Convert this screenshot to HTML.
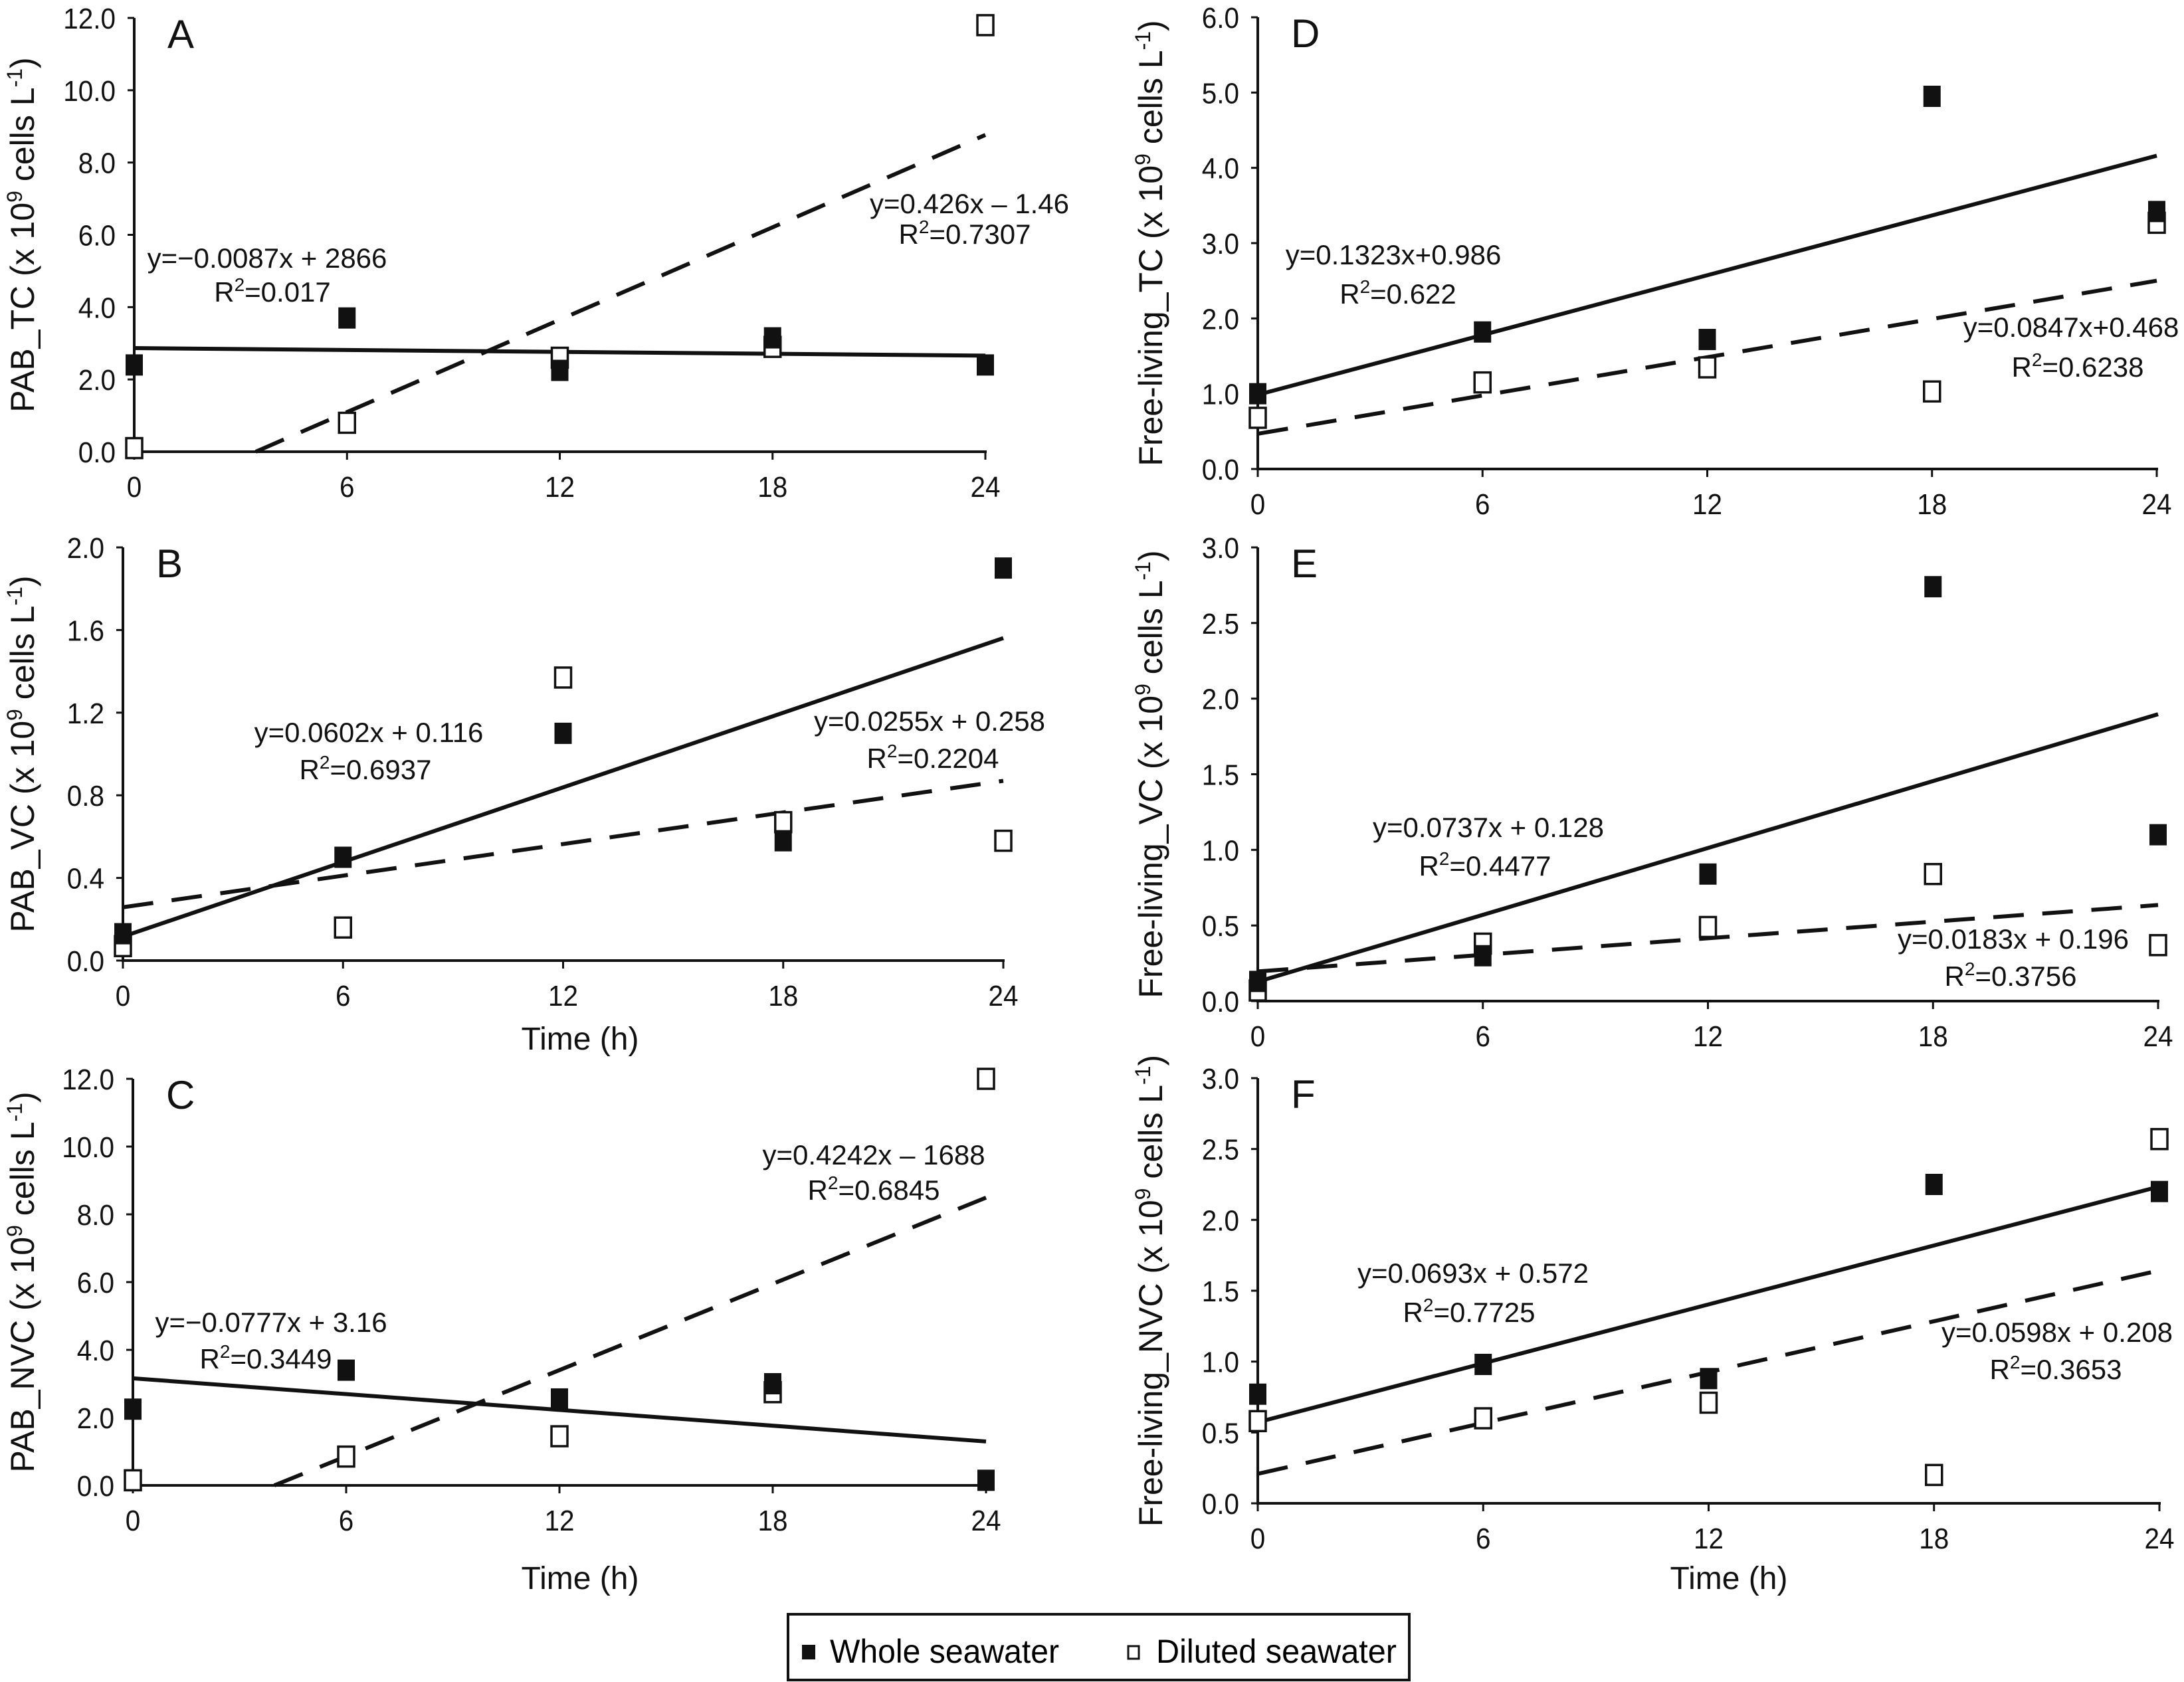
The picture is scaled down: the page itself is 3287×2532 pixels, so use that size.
<!DOCTYPE html>
<html><head><meta charset="utf-8"><style>
html,body{margin:0;padding:0;background:#fff;}
svg{display:block;font-family:"Liberation Sans",Arial,sans-serif;}
</style></head><body>
<svg id="fig" width="3287" height="2532" viewBox="0 0 3287 2532" xmlns="http://www.w3.org/2000/svg">
<rect width="3287" height="2532" fill="#fff"/>
<g>
<rect x="1186" y="2430" width="935" height="99" fill="#fff" stroke="#111" stroke-width="4"/>
<rect x="1207" y="2476" width="20" height="22" fill="#111"/>
<text x="1249" y="2503" font-size="50" textLength="345" lengthAdjust="spacingAndGlyphs">Whole seawater</text>
<rect x="1698" y="2478" width="16" height="19" fill="#fff" stroke="#111" stroke-width="3"/>
<text x="1740" y="2503" font-size="50" textLength="362" lengthAdjust="spacingAndGlyphs">Diluted seawater</text>
</g>
</svg>
<script>
// ---- data (top-level arrays) ----
const times = [0, 6, 12, 18, 24];
const xTicks = [0, 6, 12, 18, 24];
const wholeA = [2.4, 3.7, 2.25, 3.15, 2.4];
const dilutedA = [0.1, 0.8, 2.6, 2.9, 11.8];
const wholeB = [0.13, 0.5, 1.1, 0.58, 1.9];
const dilutedB = [0.07, 0.16, 1.37, 0.67, 0.58];
const wholeC = [2.25, 3.4, 2.55, 3.0, 0.15];
const dilutedC = [0.15, 0.85, 1.45, 2.75, 12.0];
const wholeD = [1.0, 1.82, 1.72, 4.95, 3.42];
const dilutedD = [0.68, 1.15, 1.35, 1.03, 3.27];
const wholeE = [0.13, 0.3, 0.84, 2.74, 1.1];
const dilutedE = [0.07, 0.38, 0.49, 0.84, 0.37];
const wholeF = [0.77, 0.98, 0.88, 2.25, 2.2];
const dilutedF = [0.58, 0.6, 0.71, 0.2, 2.57];
// regression coefficients [slope, intercept]
const fitWholeA = [-0.0087, 2.866];
const fitDilutedA = [0.426, -1.46];
const fitWholeB = [0.0602, 0.116];
const fitDilutedB = [0.0255, 0.258];
const fitWholeC = [-0.0777, 3.16];
const fitDilutedC = [0.4242, -1.688];
const fitWholeD = [0.1323, 0.986];
const fitDilutedD = [0.0847, 0.468];
const fitWholeE = [0.0737, 0.128];
const fitDilutedE = [0.0183, 0.196];
const fitWholeF = [0.0693, 0.572];
const fitDilutedF = [0.0598, 0.208];
const yTicksA = ["0.0","2.0","4.0","6.0","8.0","10.0","12.0"];
const yTicksB = ["0.0","0.4","0.8","1.2","1.6","2.0"];
const yTicksC = ["0.0","2.0","4.0","6.0","8.0","10.0","12.0"];
const yTicksD = ["0.0","1.0","2.0","3.0","4.0","5.0","6.0"];
const yTicksE = ["0.0","0.5","1.0","1.5","2.0","2.5","3.0"];
const yTicksF = ["0.0","0.5","1.0","1.5","2.0","2.5","3.0"];

const NS = "http://www.w3.org/2000/svg";
const svg = document.getElementById("fig");
function mk(tag, attrs, parent){ const e=document.createElementNS(NS,tag); for(const k in attrs) e.setAttribute(k,attrs[k]); (parent||svg).appendChild(e); return e; }

const panels = [
 {id:"a",letter:"A",x0:202,x1:1483,yb:680,yt:27,ymax:12,yt_:yTicksA,w:wholeA,d:dilutedA,fw:fitWholeA,fd:fitDilutedA,title:"PAB_TC",tx:34,
  eq:[[402,403,"y=−0.0087x + 2866"],[410,454,"0.017"],[1459,321,"y=0.426x – 1.46"],[1452,367,"0.7307"]],time:null},
 {id:"b",letter:"B",x0:185,x1:1510,yb:1446,yt:824,ymax:2,yt_:yTicksB,w:wholeB,d:dilutedB,fw:fitWholeB,fd:fitDilutedB,title:"PAB_VC",tx:34,
  eq:[[555,1117,"y=0.0602x + 0.116"],[550,1173,"0.6937"],[1399,1100,"y=0.0255x + 0.258"],[1404,1156,"0.2204"]],time:[873,1580]},
 {id:"c",letter:"C",x0:200,x1:1484,yb:2236,yt:1624,ymax:12,yt_:yTicksC,w:wholeC,d:dilutedC,fw:fitWholeC,fd:fitDilutedC,title:"PAB_NVC",tx:34,
  eq:[[408,2005,"y=−0.0777x + 3.16"],[400,2060,"0.3449"],[1315,1753,"y=0.4242x – 1688"],[1315,1806,"0.6845"]],time:[873,2392]},
 {id:"d",letter:"D",x0:1893,x1:3246,yb:706,yt:26,ymax:6,yt_:yTicksD,w:wholeD,d:dilutedD,fw:fitWholeD,fd:fitDilutedD,title:"Free-living_TC",tx:1732,
  eq:[[2097,398,"y=0.1323x+0.986"],[2104,457,"0.622"],[3117,507,"y=0.0847x+0.468"],[3127,567,"0.6238"]],time:null},
 {id:"e",letter:"E",x0:1893,x1:3248,yb:1507,yt:824,ymax:3,yt_:yTicksE,w:wholeE,d:dilutedE,fw:fitWholeE,fd:fitDilutedE,title:"Free-living_VC",tx:1732,
  eq:[[2240,1260,"y=0.0737x + 0.128"],[2235,1318,"0.4477"],[3030,1428,"y=0.0183x + 0.196"],[3026,1484,"0.3756"]],time:null},
 {id:"f",letter:"F",x0:1893,x1:3250,yb:2263,yt:1623,ymax:3,yt_:yTicksF,w:wholeF,d:dilutedF,fw:fitWholeF,fd:fitDilutedF,title:"Free-living_NVC",tx:1732,
  eq:[[2217,1931,"y=0.0693x + 0.572"],[2211,1990,"0.7725"],[3096,2020,"y=0.0598x + 0.208"],[3094,2076,"0.3653"]],time:[2602,2392]}
];

panels.forEach(p=>{
  const g = mk("g",{});
  
  
  const X = t => p.x0 + (t/24)*(p.x1-p.x0);
  const Y = v => p.yb - (v/p.ymax)*(p.yb-p.yt);
  const ax = mk("line",{x1:p.x0,y1:p.yt,x2:p.x0,y2:p.yb+2,stroke:"#111","stroke-width":4},g);
  
  
  const bx = mk("line",{x1:p.x0-2,y1:p.yb,x2:p.x1+2,y2:p.yb,stroke:"#111","stroke-width":4},g);
  
  
  const n = p.yt_.length-1;
  p.yt_.forEach((lab,i)=>{
    const v = p.ymax*i/n, y=Y(v);
    mk("line",{x1:p.x0-10,y1:y,x2:p.x0,y2:y,stroke:"#111","stroke-width":3},g);
    const t = mk("text",{x:p.x0-28,y:y+16,"font-size":44,"text-anchor":"end",fill:"#111",transform:`translate(${(p.x0-28)*0.08} 0) scale(0.92 1)`},g);
    t.textContent = lab;
    
    
  });
  xTicks.forEach(tv=>{
    const x=X(tv);
    mk("line",{x1:x,y1:p.yb,x2:x,y2:p.yb+12,stroke:"#111","stroke-width":3},g);
    const t = mk("text",{x:x,y:p.yb+68,"font-size":44,"text-anchor":"middle",fill:"#111",transform:`translate(${x*0.08} 0) scale(0.92 1)`},g);
    t.textContent = tv;
    
    
  });
  const cy = (p.yt+p.yb)/2;
  const yt = mk("text",{x:p.tx,y:cy,"font-size":50,"text-anchor":"middle",fill:"#111",transform:`rotate(-90 ${p.tx} ${cy})`,dy:"17"},g);
  yt.innerHTML = p.title + ' (x 10<tspan dy="-18" font-size="32">9</tspan><tspan dy="18"> cells L</tspan><tspan dy="-18" font-size="32">-1</tspan><tspan dy="18">)</tspan>';
  
  
  const lt = mk("text",{x:p.x0+50,y:p.yt+45,"font-size":60,fill:"#111"},g);
  lt.textContent = p.letter;
  
  
  function fitLine(f,dashed,name){
    let t0=0; if(f[1]<0) t0=-f[1]/f[0];
    const l = mk("line",{x1:X(t0),y1:Y(f[0]*t0+f[1]),x2:X(24),y2:Y(f[0]*24+f[1]),stroke:"#111","stroke-width":6},g);
    if(dashed) l.setAttribute("stroke-dasharray","46 28");
    
    
  }
  fitLine(p.fw,false,'trendline-whole');
  fitLine(p.fd,true,'trendline-diluted');
  times.forEach((tv,i)=>{
    const d = mk("rect",{x:X(tv)-12,y:Y(p.d[i])-15,width:24,height:30,fill:"#fff",stroke:"#111","stroke-width":3.5},g);
    
    
  });
  times.forEach((tv,i)=>{
    const w = mk("rect",{x:X(tv)-13,y:Y(p.w[i])-16,width:26,height:32,fill:"#111"},g);
    
    
  });
  p.eq.forEach((e,k)=>{
    const t = mk("text",{x:e[0],y:e[1],"font-size":42,"text-anchor":"middle",fill:"#111"},g);
    if(k%2===0) t.textContent = e[2];
    else t.innerHTML = 'R<tspan dy="-16" font-size="28">2</tspan><tspan dy="16">=' + e[2] + '</tspan>';
    
    
  });
  if(p.time){
    const t = mk("text",{x:p.time[0],y:p.time[1],"font-size":48,"text-anchor":"middle",fill:"#111"},g);
    t.textContent = "Time (h)";
    
    
  }
});
</script>
</body></html>
